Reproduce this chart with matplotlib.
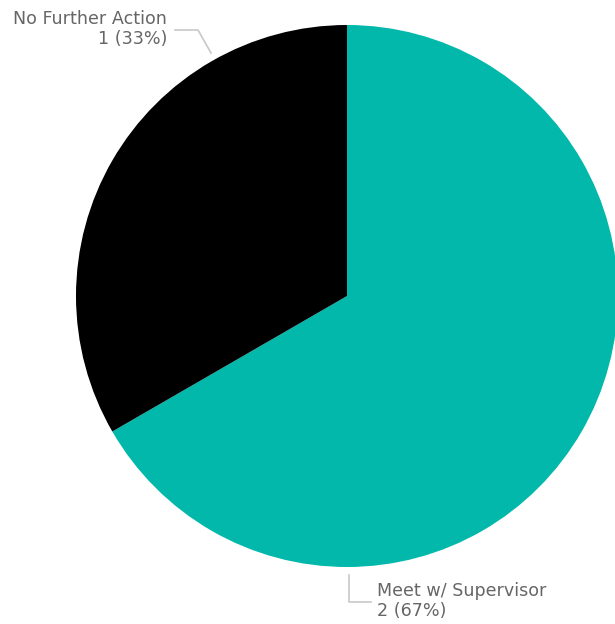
import matplotlib
matplotlib.use("Agg")
import matplotlib.pyplot as plt

# data
categories = ["Meet w/ Supervisor", "No Further Action"]
counts = [2, 1]
colors = ["#01B8AA", "#000000"]

W, H = 615, 624
fig = plt.figure(figsize=(W / 100, H / 100), dpi=100)
ax = fig.add_axes([0, 0, 1, 1])

# pie in pixel space (y up)
cx, cy, r = 347, H - 296, 271
ax.pie(counts, colors=colors, startangle=90, counterclock=False,
       center=(cx, cy), radius=r, frame=True,
       wedgeprops=dict(linewidth=0))
ax.set_xlim(0, W)
ax.set_ylim(0, H)
ax.set_aspect("equal")
ax.axis("off")

total = sum(counts)
labels = ["%s\n%d (%d%%)" % (c, v, round(v * 100 / total)) for c, v in zip(categories, counts)]

txt = dict(color="#666666", fontsize=12.6, family=["DejaVu Sans"], linespacing=1.2)
line = dict(color="#c8c8c8", linewidth=1.2)

# No Further Action (top left)
ax.plot([175, 198, 211], [H - 30, H - 30, H - 53], **line)
ax.text(167, H - 29, labels[1], ha="right", va="center", **txt)

# Meet w/ Supervisor (bottom)
ax.plot([349, 349, 371], [H - 575, H - 602, H - 602], **line)
ax.text(377, H - 601, labels[0], ha="left", va="center", **txt)

fig.savefig("out.png", dpi=100)
